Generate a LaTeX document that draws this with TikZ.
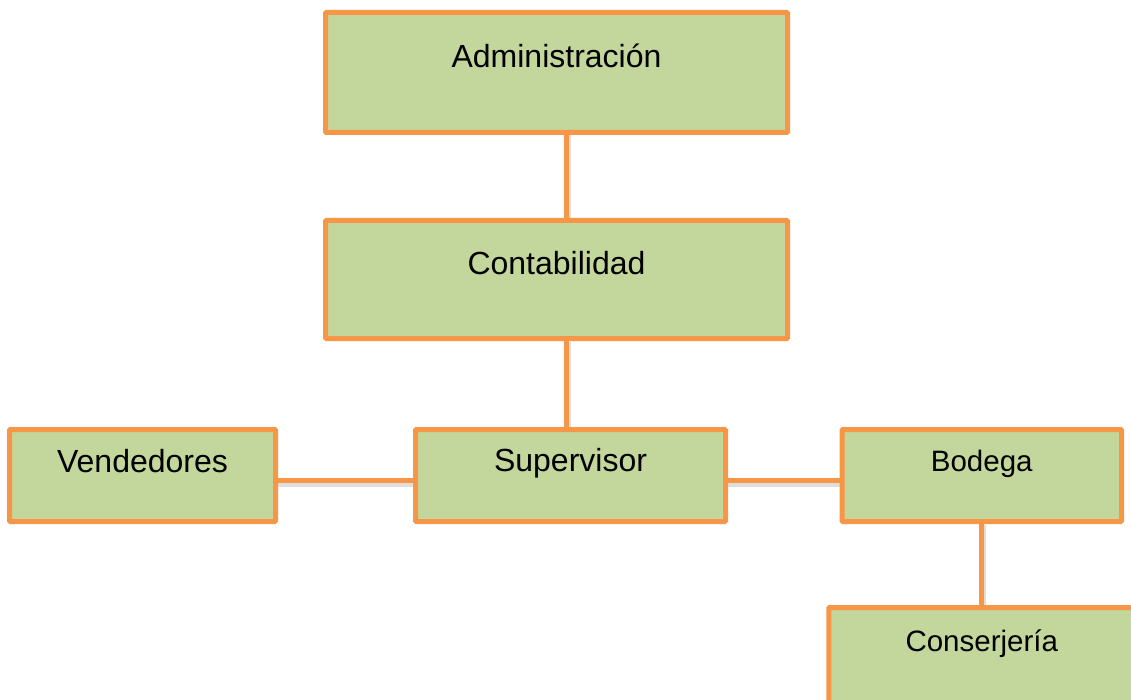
\documentclass[tikz,border=0pt]{standalone}
\usepackage{fontspec}
\setmainfont{Liberation Sans}
\usepackage{xcolor}
\usepackage{tikz}
\usetikzlibrary{positioning,backgrounds}
\definecolor{cOrg} {HTML}{F79646}
\definecolor{cLeaf}{HTML}{C3D69B}
\tikzset{
  obox/.style={draw=cOrg,fill=cLeaf,line width=5pt,inner sep=0pt,outer sep=0pt,
               rounded corners=1pt,align=center,font=\fontsize{32}{38}\selectfont},
  osm/.style ={obox,font=\fontsize{29.5}{35}\selectfont},
  olink/.style={cOrg,line width=5pt,
                preaction={draw=black,opacity=0.13,line width=6pt,
                           transform canvas={shift={(1.5pt,-3pt)}}}},
}

\begin{document}
\begin{tikzpicture}[x=1pt,y=-1pt]
        \useasboundingbox (0,0) rectangle (1131,700);
        \clip (0,0) rectangle (1131,700);
        \node[obox,minimum width=462pt,text height=55.5pt,text depth=64.5pt]
          (adm) at (556.5,72.5) {Administración};
        \node[obox,minimum width=462pt,text height=54.5pt,text depth=63.5pt,below=88pt of adm]
          (cont) {Contabilidad};
        \node[obox,minimum width=310pt,text height=41.5pt,text depth=50.5pt,
              below=91pt of cont,xshift=14pt] (sup) {Supervisor};
        \node[obox,minimum width=266pt,text height=42.5pt,text depth=49.5pt,left=140pt of sup]
          (ven) {Vendedores};
        \node[osm,minimum width=279.5pt,text height=41.5pt,text depth=50.5pt,right=116.5pt of sup]
          (bod) {Bodega};
        \node[osm,minimum width=306pt,text height=43.5pt,text depth=52.5pt,below=86pt of bod]
          (con) {Conserjería};
        \begin{scope}[on background layer]
          \draw[olink] ([xshift=9.5pt]adm.south) -- ([xshift=9.5pt]cont.north);
          \draw[olink] ([xshift=9.5pt]cont.south) -- ([xshift=-4.5pt]sup.north);
          \draw[olink] ([yshift=-5pt]ven.east) -- ([yshift=-5pt]sup.west);
          \draw[olink] ([yshift=-5pt]sup.east) -- ([yshift=-5pt]bod.west);
          \draw[olink] (bod.south) -- (con.north);
        \end{scope}
      \end{tikzpicture}
\end{document}
